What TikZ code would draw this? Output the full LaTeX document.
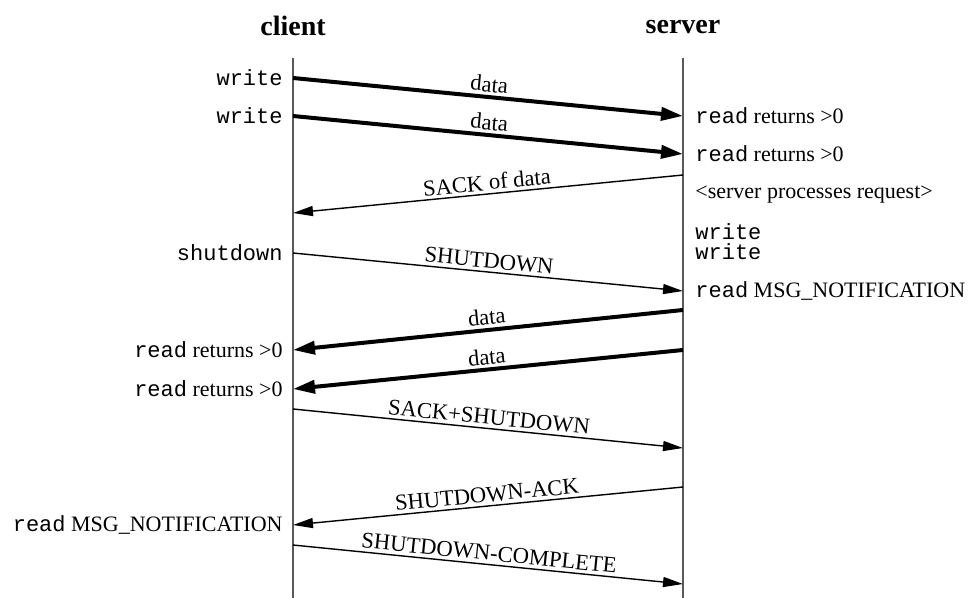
\documentclass[tikz,border=0pt]{standalone}
\usepackage{fontspec}
\setmainfont{Liberation Serif}
\setmonofont{Liberation Mono}
\usetikzlibrary{arrows.meta}
\begin{document}
\begin{tikzpicture}[x=0.5pt,y=-0.5pt,
  lifeline/.style={draw=black!65, line width=1pt},
  thickmsg/.style={line width=2pt, -{Triangle[length=11pt,width=6.5pt]}},
  thinmsg/.style={line width=0.7pt, -{Triangle[length=10pt,width=5pt]}},
  msglabel/.style={font=\fontsize{11.3}{13}\selectfont, above, sloped, midway, inner sep=1.5pt},
  sidel/.style={font=\fontsize{11}{13}\selectfont, anchor=east, inner sep=0pt},
  sider/.style={font=\fontsize{11}{13}\selectfont, anchor=west, inner sep=0pt},
  titletext/.style={font=\fontsize{14}{16}\selectfont\bfseries}]
\useasboundingbox (0,0) rectangle (972,598);

% titles
\node[titletext] (ctitle) at (293,26) {client};
\node[titletext] (stitle) at (683,27) {server};

% lifelines
\coordinate (ctop) at (293,58);
\coordinate (cbot) at (293,598);
\coordinate (stop) at (683,58);
\coordinate (sbot) at (683,598);
\draw[lifeline] (ctop) -- (cbot);
\draw[lifeline] (stop) -- (sbot);

% message end points
\coordinate (a1) at (293,78);  \coordinate (b1) at (683,116);
\coordinate (a2) at (293,116); \coordinate (b2) at (683,154);
\coordinate (b3) at (683,175); \coordinate (a3) at (293,213);
\coordinate (a4) at (293,253); \coordinate (b4) at (683,291);
\coordinate (b5) at (683,310); \coordinate (a5) at (293,350);
\coordinate (b6) at (683,350); \coordinate (a6) at (293,389);
\coordinate (a7) at (293,409); \coordinate (b7) at (683,448);
\coordinate (b8) at (683,487); \coordinate (a8) at (293,525);
\coordinate (a9) at (293,545); \coordinate (b9) at (683,584);

% messages
\draw[thickmsg] (a1) -- (b1) node[msglabel] (m1) {data};
\draw[thickmsg] (a2) -- (b2) node[msglabel] (m2) {data};
\draw[thinmsg]  (b3) -- (a3) node[msglabel] (m3) {SACK of data};
\draw[thinmsg]  (a4) -- (b4) node[msglabel] (m4) {SHUTDOWN};
\draw[thickmsg] (b5) -- (a5) node[msglabel] (m5) {data};
\draw[thickmsg] (b6) -- (a6) node[msglabel] (m6) {data};
\draw[thinmsg]  (a7) -- (b7) node[msglabel] (m7) {SACK+SHUTDOWN};
\draw[thinmsg]  (b8) -- (a8) node[msglabel] (m8) {SHUTDOWN-ACK};
\draw[thinmsg]  (a9) -- (b9) node[msglabel] (m9) {SHUTDOWN-COMPLETE};

% client side labels
\node[sidel] (l1) at ([xshift=-5pt]a1) {\texttt{write}};
\node[sidel] (l2) at ([xshift=-5pt]a2) {\texttt{write}};
\node[sidel] (l4) at ([xshift=-5pt]a4) {\texttt{shutdown}};
\node[sidel] (l5) at ([xshift=-5pt]a5) {\texttt{read} returns >0};
\node[sidel] (l6) at ([xshift=-5pt]a6) {\texttt{read} returns >0};
\node[sidel] (l8) at ([xshift=-5pt]a8) {\texttt{read} MSG\_NOTIFICATION};

% server side labels
\node[sider] (r1) at ([xshift=6pt]b1) {\texttt{read} returns >0};
\node[sider] (r2) at ([xshift=6pt]b2) {\texttt{read} returns >0};
\node[sider] (r3) at (695,195) {<server processes request>};
\node[sider] (r4) at (695,232) {\texttt{write}};
\node[sider] (r5) at (695,252) {\texttt{write}};
\node[sider] (r6) at ([xshift=6pt]b4) {\texttt{read} MSG\_NOTIFICATION};
\end{tikzpicture}
\end{document}
